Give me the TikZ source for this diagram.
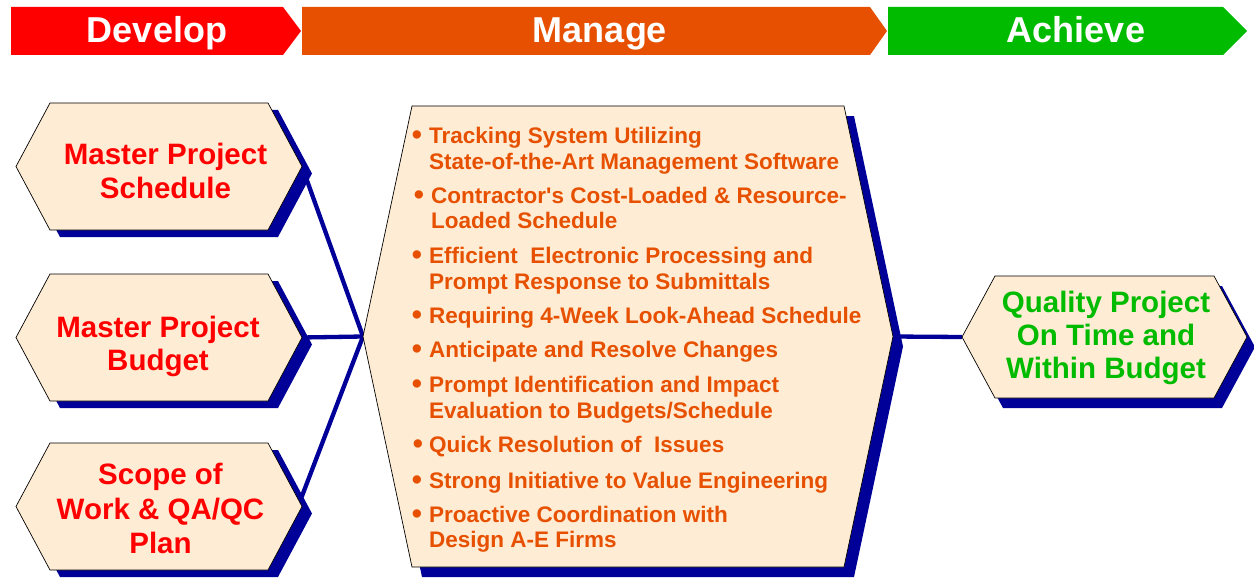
\documentclass[tikz,border=0pt]{standalone}
\usepackage{fontspec}
\setmainfont{Liberation Sans}
\definecolor{devred}{RGB}{255,0,0}
\definecolor{mgorange}{RGB}{230,80,0}
\definecolor{achgreen}{RGB}{0,187,0}
\definecolor{beige}{RGB}{255,236,212}
\definecolor{navy}{RGB}{0,0,153}
\newcommand{\HexShape}[7]{%
  \fill[navy,shift={(#6,#7)}] (#1,{(#2+#4)/2}) -- (#1+#5,#2) -- (#3-#5,#2) -- (#3,{(#2+#4)/2}) -- (#3-#5,#4) -- (#1+#5,#4) -- cycle;
  \draw[fill=beige,line width=0.7pt] (#1,{(#2+#4)/2}) -- (#1+#5,#2) -- (#3-#5,#2) -- (#3,{(#2+#4)/2}) -- (#3-#5,#4) -- (#1+#5,#4) -- cycle;
}
\begin{document}
\begin{tikzpicture}[x=1pt,y=-1pt,
  bannertext/.style={text=white,font=\fontsize{36}{40}\selectfont\bfseries,anchor=base,inner sep=0pt},
  lefttext/.style={text=devred,font=\fontsize{29.5}{34}\selectfont\bfseries,anchor=base,inner sep=0pt},
  righttext/.style={text=achgreen,font=\fontsize{29.5}{34}\selectfont\bfseries,anchor=base,inner sep=0pt},
  midtext/.style={text=mgorange,font=\fontsize{22.5}{26}\selectfont\bfseries,anchor=base west,inner sep=0pt},
  bul/.style={text=mgorange,font=\fontsize{29}{26}\selectfont\bfseries,anchor=base,inner sep=0pt,yshift=-1pt},
  conn/.style={draw=navy,line width=4.3pt}]
\useasboundingbox (0,0) rectangle (1254,578);
% banners
\fill[devred] (11,7) -- (283,7) -- (301,31) -- (283,55) -- (11,55) -- cycle;
\fill[mgorange] (302,7) -- (870,7) -- (887,31) -- (870,55) -- (302,55) -- cycle;
\fill[achgreen] (888,7) -- (1223,7) -- (1247,31) -- (1223,55) -- (888,55) -- cycle;
\node[bannertext] (tdev) at (157,43) {Develop};
\node[bannertext] (tman) at (600,43) {Manage};
\node[bannertext] (tach) at (1076,43) {Achieve};
% connection points
\coordinate (b1) at (302,166.5);
\coordinate (b2) at (302,337.5);
\coordinate (b3) at (298,506.5);
\coordinate (mL) at (363,336.5);
\coordinate (mR) at (893,336.5);
\coordinate (rL) at (962,337);
% connectors
\draw[conn] (b1) -- (mL);
\draw[conn] (b2) -- (mL);
\draw[conn] (b3) -- (mL);
\draw[conn] (mR) -- (rL);
% shapes
\HexShape{16}{103}{302}{230}{34}{10}{7}
\HexShape{16}{274}{302}{401}{34}{10}{7}
\HexShape{16}{443}{302}{570}{34}{10}{7}
\HexShape{363}{106}{893}{567}{49}{10}{10}
\HexShape{962}{276}{1247}{398}{33}{8}{10}
% left texts
\node[lefttext] (l1a) at (165.5,164) {Master Project};
\node[lefttext] (l1b) at (165.5,198) {Schedule};
\node[lefttext] (l2a) at (158,337) {Master Project};
\node[lefttext] (l2b) at (158,370) {Budget};
\node[lefttext] (l3a) at (160.5,484) {Scope of};
\node[lefttext] (l3b) at (160.5,519) {Work \& QA/QC};
\node[lefttext] (l3c) at (160.5,553) {Plan};
% right text
\node[righttext] (r1) at (1106,312) {Quality Project};
\node[righttext] (r2) at (1106,345) {On Time and};
\node[righttext] (r3) at (1106,378) {Within Budget};
% middle bullets
\node[bul] (u1) at (417,143) {\textbullet};
\node[midtext] (m1a) at (429,143) {Tracking System Utilizing};
\node[midtext] (m1b) at (429,169) {State-of-the-Art Management Software};
\node[bul] (u2) at (419,203) {\textbullet};
\node[midtext] (m2a) at (431,203) {Contractor\textquotesingle s Cost-Loaded \& Resource-};
\node[midtext] (m2b) at (431,228) {Loaded Schedule};
\node[bul] (u3) at (417,263) {\textbullet};
\node[midtext] (m3a) at (429,263) {Efficient\ \ Electronic Processing and};
\node[midtext] (m3b) at (429,289) {Prompt Response to Submittals};
\node[bul] (u4) at (417,323) {\textbullet};
\node[midtext] (m4) at (429,323) {Requiring 4-Week Look-Ahead Schedule};
\node[bul] (u5) at (417,357) {\textbullet};
\node[midtext] (m5) at (429,357) {Anticipate and Resolve Changes};
\node[bul] (u6) at (417,392) {\textbullet};
\node[midtext] (m6a) at (429,392) {Prompt Identification and Impact};
\node[midtext] (m6b) at (429,418) {Evaluation to Budgets/Schedule};
\node[bul] (u7) at (418,452) {\textbullet};
\node[midtext] (m7) at (429,452) {Quick Resolution of\ \ Issues};
\node[bul] (u8) at (417,488) {\textbullet};
\node[midtext] (m8) at (429,488) {Strong Initiative to Value Engineering};
\node[bul] (u9) at (417,522) {\textbullet};
\node[midtext] (m9a) at (429,522) {Proactive Coordination with};
\node[midtext] (m9b) at (429,547) {Design A-E Firms};
\end{tikzpicture}
\end{document}
